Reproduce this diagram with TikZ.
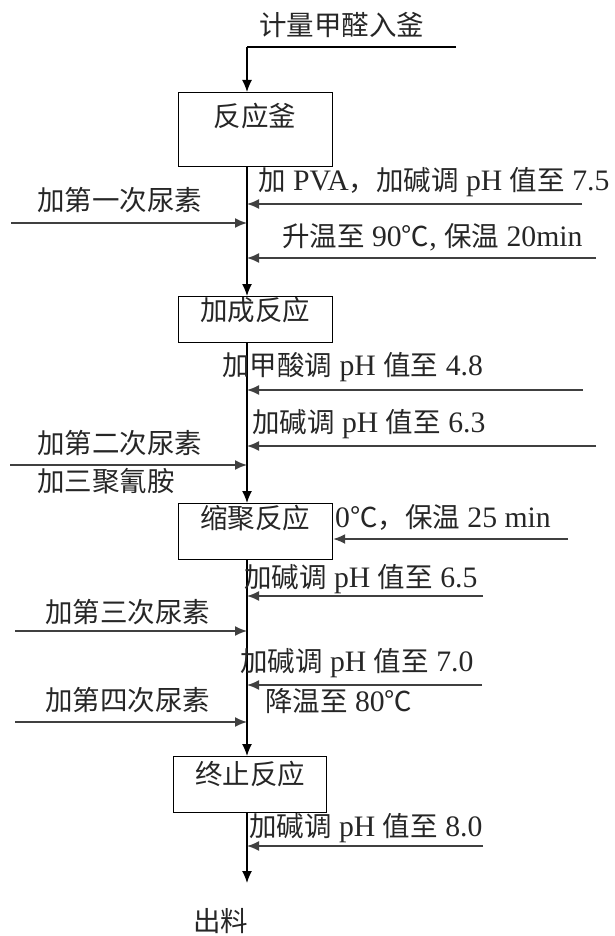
\documentclass[tikz,border=0pt]{standalone}
\usepackage{fontspec}
\setmainfont[Scale=1.08]{Liberation Serif}
\newfontfamily\cjk{Noto Sans CJK SC}
\usetikzlibrary{arrows.meta}
\newcommand\zh[1]{{\cjk #1}}
\begin{document}
\begin{tikzpicture}[x=1pt,y=-1pt,
  lbl/.style={anchor=west,inner sep=0pt,font=\fontsize{27.5}{30}\selectfont,text=black!85},
  boxst/.style={draw,line width=1.2pt,anchor=north west,inner sep=0pt},
  arr/.style={line width=1.3pt,-{Latex[length=12pt,width=10pt]}},
  sarr/.style={line width=1.6pt,draw=black!75,-{Latex[length=12pt,width=10pt]}},
  ln/.style={line width=1.3pt}]
\useasboundingbox (0,0) rectangle (614,936);
\coordinate (sp) at (247,0);
% top
\node[lbl] (t0) at (259,25) {\zh{计量甲醛入釜}};
\coordinate (top1) at (456,47);
\coordinate (top2) at (247,47);
% boxes
\node[boxst,minimum width=154pt,minimum height=74pt] (b1) at (178,92) {};
\node[lbl,anchor=center] (l1) at (255,116) {\zh{反应釜}};
\node[boxst,minimum width=154pt,minimum height=46pt] (b2) at (178,296) {};
\node[lbl,anchor=center] (l2) at (255,310) {\zh{加成反应}};
\node[boxst,minimum width=154pt,minimum height=56pt] (b3) at (178,503) {};
\node[lbl,anchor=center] (l3) at (255,518) {\zh{缩聚反应}};
\node[boxst,minimum width=153pt,minimum height=56pt] (b4) at (173,756) {};
\node[lbl,anchor=center] (l4) at (250,774) {\zh{终止反应}};
\node[lbl] (out) at (193,921) {\zh{出料}};
\coordinate (end) at (247,883);
% main flow
\draw[ln] (top1) -- (top2);
\draw[arr] (top2) -- (sp |- b1.north);
\draw[arr] (sp |- b1.south) -- (sp |- b2.north);
\draw[arr] (sp |- b2.south) -- (sp |- b3.north);
\draw[arr] (sp |- b3.south) -- (sp |- b4.north);
\draw[arr] (sp |- b4.south) -- (end);
% labels
\node[lbl] (a1) at (258,182) {\zh{加} PVA\zh{，加碱调} pH \zh{值至} 7.5};
\node[lbl] (a2) at (37,200) {\zh{加第一次尿素}};
\node[lbl] (a3) at (282,237) {\zh{升温至} 90\zh{℃}, \zh{保温} 20min};
\node[lbl] (a4) at (222,367) {\zh{加甲酸调} pH \zh{值至} 4.8};
\node[lbl] (a5) at (252,424) {\zh{加碱调} pH \zh{值至} 6.3};
\node[lbl] (a6) at (37,443) {\zh{加第二次尿素}};
\node[lbl] (a7) at (37,481) {\zh{加三聚氰胺}};
\node[lbl] (a8) at (335,517) {0\zh{℃，保温} 25 min};
\node[lbl] (a9) at (244,579) {\zh{加碱调} pH \zh{值至} 6.5};
\node[lbl] (a10) at (45,612) {\zh{加第三次尿素}};
\node[lbl] (a11) at (240,663) {\zh{加碱调} pH \zh{值至} 7.0};
\node[lbl] (a12) at (265,701) {\zh{降温至} 80\zh{℃}};
\node[lbl] (a13) at (45,700) {\zh{加第四次尿素}};
\node[lbl] (a14) at (249,828) {\zh{加碱调} pH \zh{值至} 8.0};
% side arrow origins
\coordinate (r1) at (582,204);
\coordinate (q1) at (11,223);
\coordinate (r2) at (596,258);
\coordinate (r3) at (583,390);
\coordinate (r4) at (596,446);
\coordinate (q2) at (10,465);
\coordinate (r5) at (568,539);
\coordinate (r6) at (483,596);
\coordinate (q3) at (15,631);
\coordinate (r7) at (482,685);
\coordinate (q4) at (15,722);
\coordinate (r8) at (483,846);
\draw[sarr] (r1) -- (r1 -| sp);
\draw[sarr] (q1) -- (q1 -| sp);
\draw[sarr] (r2) -- (r2 -| sp);
\draw[sarr] (r3) -- (r3 -| sp);
\draw[sarr] (r4) -- (r4 -| sp);
\draw[sarr] (q2) -- (q2 -| sp);
\draw[sarr] (r5) -- (r5 -| b3.east);
\draw[sarr] (r6) -- (r6 -| sp);
\draw[sarr] (q3) -- (q3 -| sp);
\draw[sarr] (r7) -- (r7 -| sp);
\draw[sarr] (q4) -- (q4 -| sp);
\draw[sarr] (r8) -- (r8 -| sp);
\end{tikzpicture}
\end{document}
